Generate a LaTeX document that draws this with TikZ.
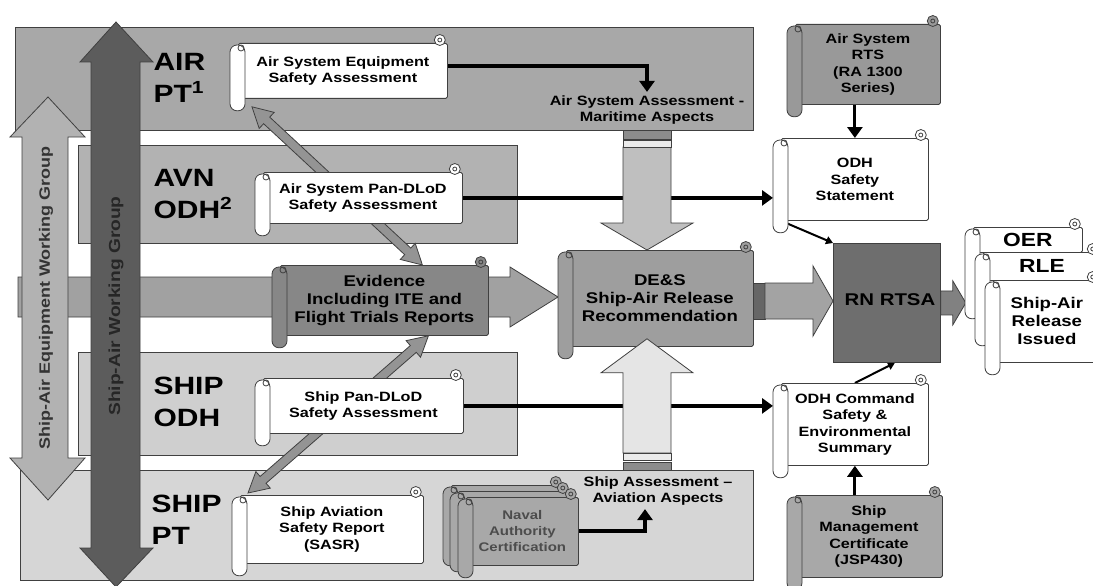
\documentclass[tikz,border=0pt]{standalone}
\usepackage{fontspec}
\setmainfont{Liberation Sans}[FakeStretch=1.2]
\usetikzlibrary{calc,arrows.meta}

\pgfdeclarelayer{bands}
\pgfdeclarelayer{links}
\pgfsetlayers{bands,links,main}

\definecolor{airband}{gray}{0.66}
\definecolor{avnband}{gray}{0.70}
\definecolor{odhband}{gray}{0.81}
\definecolor{ptband}{gray}{0.84}
\definecolor{evband}{gray}{0.63}
\definecolor{eqfill}{gray}{0.70}
\definecolor{wgfill}{gray}{0.36}
\definecolor{evfill}{gray}{0.53}
\definecolor{desfill}{gray}{0.62}
\definecolor{rtsfill}{gray}{0.60}
\definecolor{certfill}{gray}{0.66}
\definecolor{rtsafill}{gray}{0.43}
\definecolor{downfill}{gray}{0.75}
\definecolor{upfill}{gray}{0.90}
\definecolor{linkfill}{gray}{0.58}
\definecolor{relfill}{gray}{0.64}

\tikzset{
  band/.style={draw=black!75,line width=1pt},
  body/.style={draw=black!75,line width=0.8pt,rounded corners=1.5pt,inner sep=0pt,align=center,anchor=north west},
  roll/.style={draw=black!75,line width=0.8pt},
  fat/.style={draw=black!75,line width=0.8pt},
  smalltxt/.style={font=\fontsize{13.5}{16.5}\selectfont\bfseries},
  certtxt/.style={font=\fontsize{12.5}{16}\selectfont\bfseries,text=black!70},
  midtxt/.style={font=\fontsize{15.5}{18}\selectfont\bfseries},
  tagtxt/.style={font=\fontsize{19}{19}\selectfont\bfseries},
  bigtxt/.style={font=\fontsize{25}{32}\selectfont\bfseries,anchor=west,align=left},
  blk/.style={draw=black,line width=4pt,-{Triangle[width=15pt,length=11pt]}},
  blkthin/.style={draw=black,line width=2pt,-{Triangle[width=8pt,length=7pt]}},
}

\def\rollext{12}
% [text style]{name}{fill}{roll left}{top}{right}{bottom}{text}
\newcommand{\scrollbox}[8][smalltxt]{%
  \node[body,#1,fill=#3,minimum width={(#6-#4-8)*1pt},minimum height={(#7-#5)*1pt}] (#2) at (#4+8,#5) {#8};
  \filldraw[roll,fill=#3] ([shift={(-8pt,3pt)}]#2.north east) circle (5.5pt);
  \draw[roll] ([shift={(-8pt,3pt)}]#2.north east) circle (2pt);
  \filldraw[roll,fill=#3,rounded corners=7pt] ([shift={(-8pt,-2pt)}]#2.north west) rectangle ([shift={(7pt,-\rollext pt)}]#2.south west);
  \draw[roll] ([shift={(3pt,-5pt)}]#2.north west) circle (3pt);
}
% [style]{from}{to}{half shaft}{half head}{head length}
\newcommand{\blockarrow}[6][]{%
  \path[fat,#1] let \p1=(#2),\p2=(#3),\n1={atan2(\y2-\y1,\x2-\x1)},\n2={veclen(\x2-\x1,\y2-\y1)} in
    [shift={(\p1)},rotate=\n1] (0pt,#4) -- ({\n2*1pt-#6},#4) -- ({\n2*1pt-#6},#5) -- ({\n2*1pt},0pt)
    -- ({\n2*1pt-#6},-#5) -- ({\n2*1pt-#6},-#4) -- (0pt,-#4) -- cycle;}
\newcommand{\dblarrow}[6][]{%
  \path[fat,#1] let \p1=(#2),\p2=(#3),\n1={atan2(\y2-\y1,\x2-\x1)},\n2={veclen(\x2-\x1,\y2-\y1)} in
    [shift={(\p1)},rotate=\n1] (0pt,0pt) -- (#6,#5) -- (#6,#4) -- ({\n2*1pt-#6},#4) -- ({\n2*1pt-#6},#5)
    -- ({\n2*1pt},0pt) -- ({\n2*1pt-#6},-#5) -- ({\n2*1pt-#6},-#4) -- (#6,-#4) -- (#6,-#5) -- cycle;}

\begin{document}
\begin{tikzpicture}[x=1pt,y=-1pt]
\useasboundingbox (0,0) rectangle (1093,586);

\begin{pgfonlayer}{bands}
\fill[white] (0,0) rectangle (1093,586);
\filldraw[band,fill=airband] (15,28) rectangle (753,130);
\filldraw[band,fill=avnband] (78,145) rectangle (517,243);
\filldraw[band,fill=odhband] (78,352) rectangle (517,455);
\filldraw[band,fill=ptband] (20,470) rectangle (753,580);
\end{pgfonlayer}

\node[bigtxt] (airpt) at (150,78) {AIR\\PT\textsuperscript{1}};
\node[bigtxt] (avnodh) at (150,194) {AVN\\ODH\textsuperscript{2}};
\node[bigtxt] (shipodh) at (150,402) {SHIP\\ODH};
\node[bigtxt] (shippt) at (148,520) {SHIP\\PT};

\scrollbox{asesa}{white}{230}{43}{447}{98}{Air System Equipment\\Safety Assessment}
\scrollbox{avnpan}{white}{255}{172}{462}{223}{Air System Pan-DLoD\\Safety Assessment}
\scrollbox{shippan}{white}{255}{378}{463}{433}{Ship Pan-DLoD\\Safety Assessment}
\scrollbox{sasr}{white}{232}{495}{423}{563}{Ship Aviation\\Safety Report\\(SASR)}
\scrollbox[certtxt]{naval3}{certfill}{443}{485}{563}{553}{}
\scrollbox[certtxt]{naval2}{certfill}{450}{491}{570}{559}{}
\scrollbox[certtxt]{naval}{certfill}{458}{497}{578}{565}{Naval\\Authority\\Certification}
\scrollbox[midtxt]{evid}{evfill}{272}{265}{488}{335}{Evidence\\Including ITE and\\Flight Trials Reports}
\scrollbox[midtxt]{des}{desfill}{558}{250}{753}{346}{DE\&S\\Ship-Air Release\\Recommendation}
\scrollbox{rts}{rtsfill}{787}{24}{940}{104}{Air System\\RTS\\(RA 1300\\Series)}
\scrollbox{odhss}{white}{773}{138}{928}{220}{ODH\\Safety\\Statement}
\scrollbox{cses}{white}{773}{383}{928}{465}{ODH Command\\Safety \&\\Environmental\\Summary}
\scrollbox{smc}{certfill}{787}{495}{942}{577}{Ship\\Management\\Certificate\\(JSP430)}

\node[draw=black!75,line width=0.8pt,fill=rtsafill,minimum width=107pt,minimum height=119pt,anchor=north west,inner sep=0pt] (rtsa) at (833,243) {};
\node[font=\fontsize{17}{17}\selectfont\bfseries] (rtsalbl) at (890,300) {RN RTSA};

\blockarrow[fill=evband!80!black]{rtsa.east}{$(rtsa.east)+(25,0)$}{12pt}{22pt}{13pt}
\def\rollext{66}
\scrollbox[tagtxt]{oer}{white}{965}{227}{1082}{252}{OER}
\def\rollext{65}
\scrollbox[tagtxt]{rle}{white}{975}{252}{1100}{280}{RLE}
\def\rollext{12}
\scrollbox[midtxt]{release}{white}{985}{280}{1100}{362}{Ship-Air\\Release\\Issued}

\node[smalltxt,align=center] (maritime) at (647,110) {Air System Assessment -\\Maritime Aspects};
\node[smalltxt,align=center] (shipasp) at (658,491) {Ship Assessment --\\Aviation Aspects};

\begin{pgfonlayer}{bands}
\coordinate (evin) at (18,297);
\blockarrow[fill=evband]{evin}{$(evin -| des.west)+(-8,0)$}{20pt}{30pt}{48pt}
\filldraw[fat,fill=eqfill] (48,97) -- (85,137) -- (68,137) -- (68,458) -- (85,458) -- (48,500)
  -- (10,458) -- (22,458) -- (22,137) -- (10,137) -- cycle;
\filldraw[fat,fill=wgfill] (116,22) -- (153,62) -- (140,62) -- (140,548) -- (153,548) -- (116,587)
  -- (80,548) -- (91,548) -- (91,62) -- (80,62) -- cycle;
\node[rotate=90,font=\fontsize{15}{15}\selectfont\bfseries,text=black!80] (eqwg) at (46,298) {Ship-Air Equipment Working Group};
\node[rotate=90,font=\fontsize{16}{16}\selectfont\bfseries,text=black!85] (sawg) at (116,306) {Ship-Air Working Group};
\end{pgfonlayer}

\begin{pgfonlayer}{links}
\dblarrow[fill=linkfill]{[shift={(14pt,-8pt)}]asesa.south west}{[xshift=38pt]evid.north}{4.5pt}{11pt}{20pt}
\dblarrow[fill=linkfill]{[xshift=44pt]evid.south}{[shift={(8pt,2pt)}]sasr.north west}{4.5pt}{11pt}{20pt}
\draw[blk] ([yshift=5pt]asesa.east) -| (maritime.north);
\draw[blk] (naval.east) -| ([xshift=-13pt]shipasp.south);
\draw[blk] (avnpan.east) -- ($(avnpan.east -| odhss.west)+(-8,0)$);
\draw[blk] (shippan.east) -- ($(shippan.east -| cses.west)+(-8,0)$);
\draw[blk,line width=3pt] (odhss.north |- rts.south) -- (odhss.north);
\draw[blkthin] (odhss.south west) -- (rtsa.north west);
\draw[blkthin] (cses.north) -- ([xshift=8pt]rtsa.south);
\draw[blk,line width=3pt] (cses.south |- smc.north) -- (cses.south);
\end{pgfonlayer}

\coordinate (airout) at (647,147);
\blockarrow[fill=downfill]{airout}{airout |- des.north}{24pt}{46pt}{27pt}
\filldraw[fat,fill=black!45] (623,130) rectangle (671,139);
\filldraw[fat,fill=black!8] (623,140) rectangle (671,147);
\coordinate (shipout) at (647,453);
\blockarrow[fill=upfill]{shipout}{$(shipout |- des.south)+(0,-8)$}{24pt}{46pt}{34pt}
\filldraw[fat,fill=black!8] (623,453) rectangle (671,460);
\filldraw[fat,fill=black!45] (623,462) rectangle (671,470);
\coordinate (desout) at (765,301);
\filldraw[fat,fill=black!60] (753,283) rectangle (765,319);
\blockarrow[fill=relfill]{desout}{desout -| rtsa.west}{18pt}{35pt}{20pt}
\end{tikzpicture}
\end{document}
